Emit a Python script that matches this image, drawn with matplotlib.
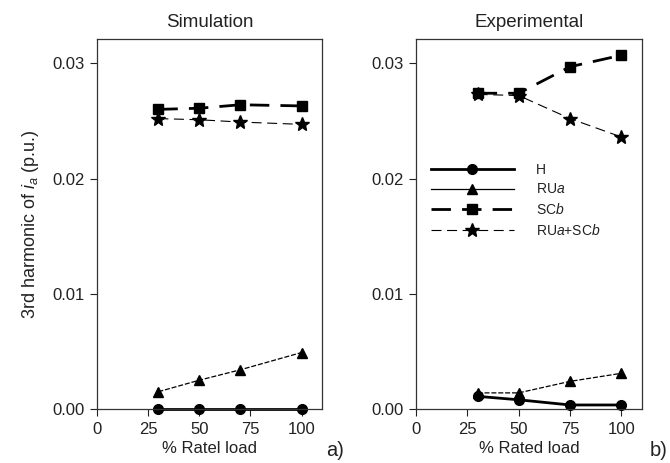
import matplotlib
matplotlib.use("Agg")
import matplotlib.pyplot as plt
from matplotlib.lines import Line2D

plt.rcParams["font.family"] = ["Liberation Sans", "DejaVu Sans"]
plt.rcParams["mathtext.fontset"] = "custom"
plt.rcParams["mathtext.it"] = "Liberation Sans:italic"
plt.rcParams["mathtext.rm"] = "Liberation Sans"

# Simulation data
x_sim = [30, 50, 70, 100]
h_sim = [0.0, 0.0, 0.0, 0.0]
rua_sim = [0.0015, 0.0025, 0.0034, 0.0049]
scb_sim = [0.0260, 0.0261, 0.0264, 0.0263]
both_sim = [0.0252, 0.0251, 0.0249, 0.0247]

# Experimental data
x_exp = [30, 50, 75, 100]
h_exp = [0.0011, 0.0008, 0.00035, 0.00035]
rua_exp = [0.0014, 0.0014, 0.0024, 0.0031]
scb_exp = [0.0274, 0.0274, 0.0297, 0.0307]
both_exp = [0.0273, 0.0272, 0.0252, 0.0236]

labels = ["H", r"RU$\it{a}$", r"SC$\it{b}$", r"RU$\it{a}$+SC$\it{b}$"]
xticks = [0, 25, 50, 75, 100]
yticks = [0.0, 0.01, 0.02, 0.03]

TXT = "#222222"

# style per series: (linestyle, linewidth, marker, markersize)
styles = [
    ("-", 2.0, "o", 7),
    ((0, (4, 1.5)), 0.9, "^", 6.5),
    ((0, (7, 4)), 2.0, "s", 6.5),
    ((0, (9, 5)), 0.8, "*", 10),
]


def draw(ax, x, series):
    for y, (ls, lw, mk, ms) in zip(series, styles):
        ax.plot(x, y, color="black", ls=ls, lw=lw, marker=mk, ms=ms, clip_on=False)
    ax.set_xlim(0, 110)
    ax.set_ylim(0, 0.0321)
    ax.set_xticks(xticks)
    ax.set_yticks(yticks)
    ax.yaxis.set_major_formatter(matplotlib.ticker.FormatStrFormatter("%.2f"))
    ax.tick_params(direction="out", length=5, width=0.8, labelsize=12, colors=TXT, labelcolor=TXT, pad=4)
    for s in ax.spines.values():
        s.set_linewidth(0.9)
        s.set_color("#333333")


fig = plt.figure(figsize=(6.7, 4.63), dpi=100)
ax1 = fig.add_axes([0.1448, 0.1166, 0.3358, 0.799])
ax2 = fig.add_axes([0.6209, 0.1166, 0.3373, 0.799])

draw(ax1, x_sim, [h_sim, rua_sim, scb_sim, both_sim])
draw(ax2, x_exp, [h_exp, rua_exp, scb_exp, both_exp])

ax1.set_title("Simulation", fontsize=13.5, color=TXT, pad=9)
ax2.set_title("Experimental", fontsize=13.5, color=TXT, pad=9)
ax1.set_xlabel("% Ratel load", fontsize=12, color=TXT, labelpad=3)
ax2.set_xlabel("% Rated load", fontsize=12, color=TXT, labelpad=3)
ax1.set_ylabel(r"3rd harmonic of $\it{i_a}$ (p.u.)", fontsize=13, color=TXT, labelpad=8)

# legend handles: the RUa entry is drawn solid in the original legend
handles = [
    Line2D([], [], color="black", ls="-", lw=2.0, marker="o", ms=7),
    Line2D([], [], color="black", ls="-", lw=0.9, marker="^", ms=6.5),
    Line2D([], [], color="black", ls=(0, (7, 4)), lw=2.0, marker="s", ms=6.5),
    Line2D([], [], color="black", ls=(0, (9, 5)), lw=0.8, marker="*", ms=10),
]
ax2.legend(handles, labels, loc="upper left", bbox_to_anchor=(0.01, 0.70), frameon=False,
           handlelength=6.0, fontsize=10, labelspacing=0.42, handletextpad=1.6,
           labelcolor=TXT)

fig.text(0.487, 0.016, "a)", fontsize=14.5, color=TXT)
fig.text(0.970, 0.016, "b)", fontsize=14.5, color=TXT)

fig.savefig("out.png", dpi=100)
